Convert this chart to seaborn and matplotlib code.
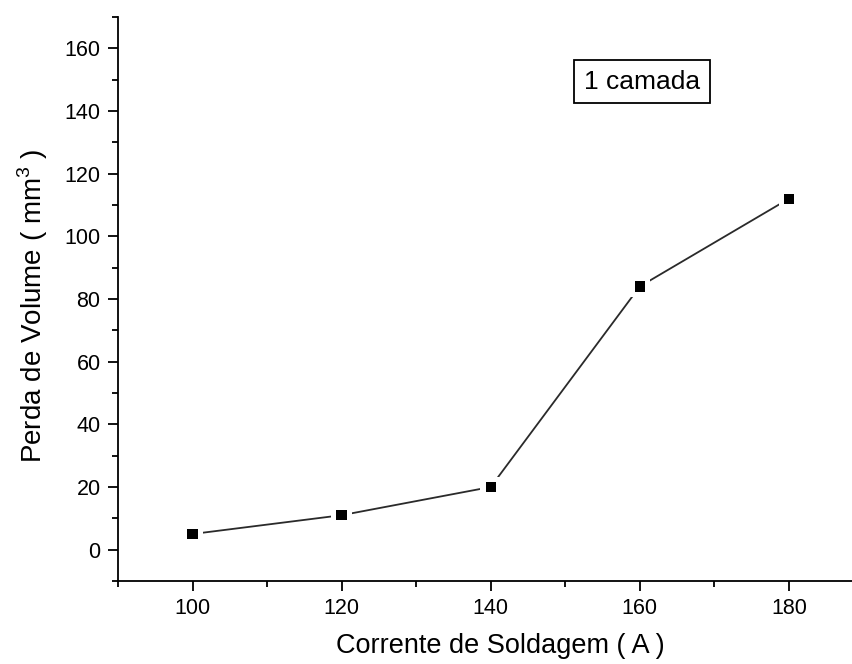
import matplotlib
matplotlib.use("Agg")
import matplotlib.pyplot as plt
from matplotlib.ticker import MultipleLocator
import seaborn as sns
import pandas as pd

corrente = [100, 120, 140, 160, 180]
perda = [5, 11, 20, 84, 112]
x_label = "Corrente de Soldagem ( A )"
y_label = "Perda de Volume ( mm$^3$ )"
annot = "1 camada"

sns.set_style("ticks")
plt.rcParams["font.family"] = ["Liberation Sans", "DejaVu Sans"]
plt.rcParams["mathtext.fontset"] = "custom"
plt.rcParams["mathtext.rm"] = "Liberation Sans"
plt.rcParams["text.color"] = "black"
plt.rcParams["axes.labelcolor"] = "black"

df = pd.DataFrame({"x": corrente, "y": perda})

fig = plt.figure(figsize=(8.53, 6.64), dpi=100)
ax = fig.add_axes([0.1383, 0.125, 0.8617, 0.8494])

sns.lineplot(data=df, x="x", y="y", ax=ax, color="#2a2a2a", linewidth=1.3, zorder=2)
sns.scatterplot(data=df, x="x", y="y", ax=ax, marker="s", s=220, color="white",
                edgecolor="none", linewidth=0, zorder=3)
sns.scatterplot(data=df, x="x", y="y", ax=ax, marker="s", s=56, color="black",
                edgecolor="none", linewidth=0, zorder=4)

ax.set_xlim(90, 188.6)
ax.set_ylim(-10, 170)
ax.xaxis.set_minor_locator(MultipleLocator(10))
ax.yaxis.set_minor_locator(MultipleLocator(10))
ax.set_xticks([100, 120, 140, 160, 180])
ax.set_yticks([0, 20, 40, 60, 80, 100, 120, 140, 160])

for s in ["top", "right"]:
    ax.spines[s].set_visible(False)
for s in ["left", "bottom"]:
    ax.spines[s].set_linewidth(1.3)
    ax.spines[s].set_color("black")

ax.tick_params(which="major", direction="out", length=7, width=1.3, labelsize=15.5,
               colors="black", pad=5.5)
ax.tick_params(which="minor", direction="out", length=4, width=1.3, colors="black")

ax.set_xlabel(x_label, fontsize=19.5, color="black")
ax.set_ylabel(y_label, fontsize=20, color="black")
ax.xaxis.set_label_coords(0.52, -0.092)
ax.yaxis.set_label_coords(-0.093, 0.4876)

ax.text(160.3, 149.4, annot, fontsize=19, ha="center", va="center", color="black",
        bbox=dict(boxstyle="square,pad=0.36", facecolor="white", edgecolor="black", linewidth=1.3))

fig.savefig("out.png", dpi=100)
